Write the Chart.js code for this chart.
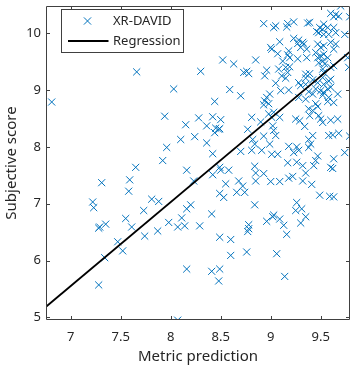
<!DOCTYPE html>
<html>
<head>
<meta charset="utf-8">
<script src="https://cdn.jsdelivr.net/npm/chart.js@4.4.0/dist/chart.umd.min.js"></script>
<style>
  html, body { margin: 0; padding: 0; background: #ffffff; }
  #wrap { width: 356px; height: 369px; }
</style>
</head>
<body>
<div id="wrap"><canvas id="c" width="356" height="369"></canvas></div>
<script>
// ---- Data ----
const seriesLabel = 'XR-DAVID';
const regressionLabel = 'Regression';

const xrX = [
  6.81,7.66,8.03,7.94,8.15,8.28,8.10,8.24,7.96,7.92,7.65,7.31,7.59,7.58,8.16,8.23,7.22,7.23,7.81,7.88,
  7.73,8.20,8.16,7.55,7.61,7.35,7.28,7.29,7.98,8.07,8.14,8.29,7.87,7.74,7.47,7.52,7.34,8.16,7.28,8.07,8.11,
  8.30,8.52,8.63,8.85,8.73,8.78,8.76,8.93,9.03,9.00,9.01,8.96,8.94,8.59,8.70,8.44,8.94,8.99,8.96,8.93,
  8.98,8.42,8.50,8.36,8.45,8.48,8.44,8.49,8.81,8.90,8.98,9.01,9.02,9.03,8.77,8.82,8.84,8.93,8.99,8.70,
  8.81,8.91,9.01,8.36,8.42,8.49,8.50,8.58,8.42,8.84,8.85,8.93,8.55,8.68,8.72,8.66,8.74,8.49,8.53,8.85,
  9.00,8.41,8.84,8.78,8.78,8.77,8.96,9.02,8.49,8.60,8.60,8.76,9.06,8.41,8.49,8.48,
  9.09,9.18,9.22,9.32,9.35,9.43,9.41,9.60,9.62,9.49,9.59,9.63,9.26,9.25,9.31,9.35,9.30,9.03,9.09,9.13,
  9.16,9.14,9.10,9.18,9.28,9.35,9.50,9.53,9.57,9.52,9.58,9.63,9.57,9.67,9.38,9.42,9.47,9.45,9.09,9.03,
  9.25,9.29,9.34,9.39,9.48,9.50,9.52,9.60,9.67,9.05,9.42,9.38,9.40,9.38,9.58,9.62,9.68,9.79,9.18,9.26,
  9.28,9.23,9.74,9.47,9.45,9.63,9.07,9.17,9.26,9.32,9.38,9.42,
  9.70,9.65,9.68,9.63,9.60,9.79,9.39,9.37,9.17,9.23,9.16,9.05,9.53,9.57,9.52,9.48,9.58,9.63,9.65,9.53,
  9.74,9.23,9.28,9.32,9.27,9.33,9.30,9.36,9.09,9.47,9.50,9.53,9.60,9.65,9.63,9.07,9.18,9.17,9.19,9.45,
  9.47,9.50,9.53,9.57,9.52,9.48,9.36,9.63,9.60,9.77,9.78,9.12,9.08,9.15,9.19,9.11,9.17,9.35,9.39,9.53,
  9.52,9.60,9.28,9.35,9.30,9.47,9.53,9.58,9.60,9.05,9.45,9.27,9.54,9.52,9.15,9.35,9.42,9.46,9.49
];
const xrY = [
  8.79,9.32,9.02,8.54,8.39,8.51,8.13,8.18,7.99,7.76,7.64,7.37,7.42,7.22,7.59,7.40,7.03,6.93,7.08,7.04,
  6.88,6.98,6.91,6.74,6.59,6.64,6.57,6.59,6.67,6.59,6.61,6.61,6.52,6.43,6.33,6.17,6.05,5.85,5.57,4.95,6.75,
  9.33,9.53,9.46,9.53,9.31,9.29,9.33,10.17,10.10,9.75,9.72,9.35,9.25,9.01,8.90,8.80,8.81,8.93,8.87,8.74,
  8.76,8.53,8.48,8.37,8.33,8.31,8.25,8.32,8.52,8.44,8.58,8.52,8.37,8.29,8.31,8.13,8.05,8.19,8.05,7.92,
  7.94,7.94,7.87,8.07,7.88,7.64,7.59,7.59,7.51,7.66,7.54,7.53,7.35,7.40,7.31,7.20,7.20,7.18,7.11,7.40,
  7.39,6.82,6.98,6.63,6.56,6.51,6.69,6.77,6.41,6.37,6.09,6.15,6.12,5.81,5.85,5.64,
  7.39,7.45,7.48,7.40,7.54,7.67,7.34,7.64,7.62,7.15,7.13,7.12,7.02,6.88,6.91,6.77,6.66,6.80,6.73,6.62,
  6.46,5.72,8.99,9.00,8.87,8.84,8.99,8.96,9.02,8.91,8.87,8.78,8.80,8.93,8.67,8.64,8.71,8.76,8.52,8.61,
  8.49,8.46,8.36,8.55,8.55,8.49,8.43,8.47,8.49,8.20,8.20,8.13,8.05,7.99,8.20,8.21,8.24,8.19,8.01,8.00,
  7.94,7.90,7.90,7.84,7.76,7.79,7.87,7.72,7.73,7.67,8.97,8.93,
  10.48,10.33,10.30,10.29,10.35,10.29,10.19,10.18,10.17,10.20,10.11,10.13,10.16,10.10,10.07,10.01,9.98,10.10,10.01,9.98,
  9.98,9.91,9.88,9.84,9.82,9.81,9.75,9.72,9.85,9.81,9.75,9.78,9.84,9.81,9.72,9.64,9.69,9.62,9.57,9.66,
  9.57,9.60,9.63,9.57,9.51,9.48,9.57,9.43,9.40,9.57,9.40,9.51,9.37,9.40,9.41,9.25,9.31,9.28,9.29,9.31,
  9.22,9.19,9.13,9.10,9.08,9.13,9.10,9.16,9.05,9.12,9.02,9.55,9.46,9.37,9.21,9.21,9.18,10.03,10.10
];

// Regression line end points (read at the axes' left and right edges)
const regX = [6.753, 9.793];
const regY = [5.186, 9.677];

// Axis ticks
const xTicks = [7, 7.5, 8, 8.5, 9, 9.5];
const yTicks = [5, 6, 7, 8, 9, 10];
const xLimits = [6.753, 9.793];
const yLimits = [4.953, 10.48];

const axisTitleX = 'Metric prediction';
const axisTitleY = 'Subjective score';

// ---- Build ----
const FONT = "'Noto Sans', 'Open Sans', sans-serif";
const TEXT = '#262626';
const AXC = '#404040';
const BLUE = '#0072BD';

const scatterData = xrX.map((x, i) => ({ x: x, y: xrY[i] }));
const regData = regX.map((x, i) => ({ x: x, y: regY[i] }));

const boxPlugin = {
  id: 'boxPlugin',
  afterDatasetsDraw(chart) {
    const ctx = chart.ctx;
    const a = chart.chartArea;
    const xs = chart.scales.x, ys = chart.scales.y;
    const L = Math.round(a.left) + 0.5, R = Math.round(a.right) - 0.5;
    const T = Math.round(a.top) + 0.5, B = Math.round(a.bottom) - 0.5;
    ctx.save();
    ctx.strokeStyle = AXC;
    ctx.lineWidth = 1;
    ctx.beginPath();
    ctx.rect(L, T, R - L, B - T);
    ctx.stroke();
    const tl = 3.5;
    ctx.beginPath();
    xTicks.forEach(v => {
      const p = Math.round(xs.getPixelForValue(v)) + 0.5;
      ctx.moveTo(p, B); ctx.lineTo(p, B - tl);
      ctx.moveTo(p, T); ctx.lineTo(p, T + tl);
    });
    yTicks.forEach(v => {
      const p = Math.round(ys.getPixelForValue(v)) + 0.5;
      ctx.moveTo(L, p); ctx.lineTo(L + tl, p);
      ctx.moveTo(R, p); ctx.lineTo(R - tl, p);
    });
    ctx.stroke();

    // Legend box
    const lx = 61.5, ly = 9.5, lw = 122, lh = 43;
    ctx.fillStyle = '#ffffff';
    ctx.fillRect(lx, ly, lw, lh);
    ctx.strokeStyle = AXC;
    ctx.strokeRect(lx, ly, lw, lh);
    // marker
    const mx = 87.5, my = 21, r = 3.6;
    ctx.strokeStyle = BLUE;
    ctx.lineWidth = 1;
    ctx.beginPath();
    ctx.moveTo(mx - r, my - r); ctx.lineTo(mx + r, my + r);
    ctx.moveTo(mx - r, my + r); ctx.lineTo(mx + r, my - r);
    ctx.stroke();
    // line
    ctx.strokeStyle = '#000000';
    ctx.lineWidth = 1.8;
    ctx.beginPath();
    ctx.moveTo(68, 41); ctx.lineTo(108.5, 41);
    ctx.stroke();
    ctx.fillStyle = TEXT;
    ctx.font = "13px " + FONT;
    ctx.textBaseline = 'middle';
    ctx.textAlign = 'left';
    ctx.fillText(chart.data.datasets[0].label, 113, 21.5);
    ctx.fillText(chart.data.datasets[1].label, 113, 41);
    ctx.restore();
  }
};

new Chart(document.getElementById('c'), {
  type: 'scatter',
  data: {
    datasets: [
      {
        label: seriesLabel,
        data: scatterData,
        pointStyle: 'crossRot',
        pointRadius: 5,
        pointHoverRadius: 5,
        pointBorderWidth: 1,
        borderColor: BLUE,
        backgroundColor: BLUE,
        showLine: false,
        order: 2
      },
      {
        label: regressionLabel,
        type: 'line',
        data: regData,
        borderColor: '#000000',
        borderWidth: 1.8,
        pointRadius: 0,
        fill: false,
        order: 1
      }
    ]
  },
  options: {
    responsive: false,
    animation: false,
    devicePixelRatio: 1,
    layout: { padding: { top: 5, right: 6, left: 0, bottom: 0 } },
    plugins: { legend: { display: false }, tooltip: { enabled: false } },
    scales: {
      x: {
        type: 'linear',
        min: xLimits[0], max: xLimits[1],
        grid: { display: false, drawTicks: false, tickLength: 0 },
        border: { display: false },
        afterBuildTicks: s => { s.ticks = xTicks.map(v => ({ value: v })); },
        afterFit: s => { s.height = 49; s.paddingLeft = 0; s.paddingRight = 0; },
        ticks: {
          color: TEXT, padding: 9,
          font: { family: FONT, size: 13 },
          maxRotation: 0, autoSkip: false,
          callback: v => String(v)
        },
        title: {
          display: true, text: axisTitleX, color: TEXT,
          font: { family: FONT, size: 15 },
          padding: { top: 0, bottom: 3 }
        }
      },
      y: {
        type: 'linear',
        min: yLimits[0], max: yLimits[1],
        grid: { display: false, drawTicks: false, tickLength: 0 },
        border: { display: false },
        afterBuildTicks: s => { s.ticks = yTicks.map(v => ({ value: v })); },
        afterFit: s => { s.width = 46; s.paddingTop = 0; s.paddingBottom = 0; },
        ticks: {
          color: TEXT, padding: 5,
          font: { family: FONT, size: 13 },
          autoSkip: false,
          callback: v => String(v)
        },
        title: {
          display: true, text: axisTitleY, color: TEXT,
          font: { family: FONT, size: 15 },
          padding: { top: 3, bottom: 0 }
        }
      }
    }
  },
  plugins: [boxPlugin]
});
</script>
</body>
</html>
